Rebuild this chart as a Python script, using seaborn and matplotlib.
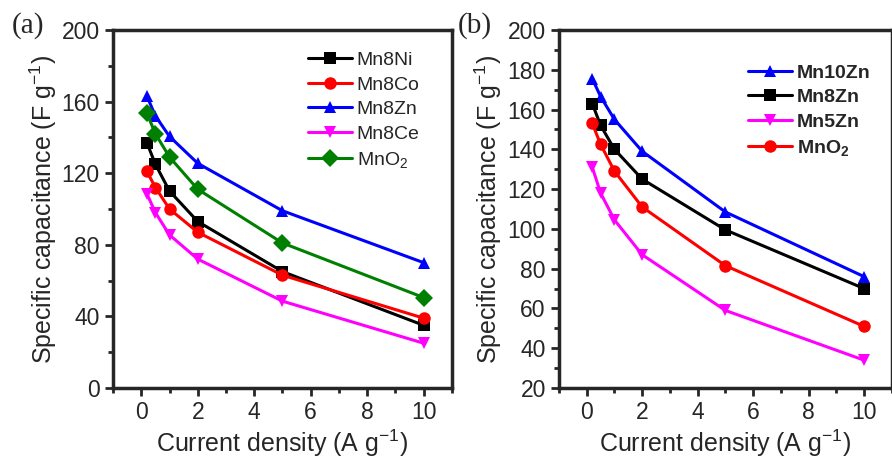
import pandas as pd
import matplotlib
matplotlib.use("Agg")
import matplotlib.pyplot as plt
from matplotlib.ticker import MultipleLocator
import seaborn as sns

# current densities (A/g)
current = [0.2, 0.5, 1, 2, 5, 10]

# panel (a)
mn8ni = [137, 125, 110, 93, 65, 35]
mn8co = [121, 112, 100, 87, 63, 39]
mn8zn = [163, 152, 140.5, 125.5, 99, 70]
mn8ce = [108.5, 98, 85.5, 72, 48.5, 25]
mno2_a = [153.5, 142, 129, 111, 81, 50.5]

# panel (b)
mn10zn = [175.5, 166.5, 155, 139, 108.5, 76]
mn8zn_b = [163, 152, 140, 125, 99.5, 70]
mn5zn = [131, 118, 104.5, 87, 59, 34]
mno2_b = [153, 142.5, 129, 111, 81.5, 51]

sns.set_style("ticks")
plt.rcParams["font.family"] = ["Liberation Sans", "DejaVu Sans"]
plt.rcParams["mathtext.fontset"] = "custom"
plt.rcParams["mathtext.rm"] = "Liberation Sans"
plt.rcParams["mathtext.bf"] = "Liberation Sans:bold"
plt.rcParams["mathtext.it"] = "Liberation Sans:italic"

def long_df(series):
    rows = []
    for name, vals in series.items():
        for x, y in zip(current, vals):
            rows.append({"x": x, "y": y, "sample": name})
    return pd.DataFrame(rows)

fig = plt.figure(figsize=(8.92, 4.59), dpi=100)
ax_a = fig.add_axes([0.1267, 0.1547, 0.380, 0.780])
ax_b = fig.add_axes([0.6267, 0.1547, 0.373, 0.780])

# ---- panel (a)
series_a = {"Mn8Ni": mn8ni, "Mn8Co": mn8co, "Mn8Zn": mn8zn,
            "Mn8Ce": mn8ce, "MnO$_2$": mno2_a}
pal_a = {"Mn8Ni": "black", "Mn8Co": "red", "Mn8Zn": "blue",
         "Mn8Ce": "magenta", "MnO$_2$": "green"}
mk_a = {"Mn8Ni": "s", "Mn8Co": "o", "Mn8Zn": "^",
        "Mn8Ce": "v", "MnO$_2$": "D"}
sns.lineplot(data=long_df(series_a), x="x", y="y", hue="sample", style="sample",
             palette=pal_a, markers=mk_a, dashes=False, linewidth=2.2,
             markersize=9, markeredgewidth=0, ax=ax_a)
ax_a.set_ylim(0, 200)
ax_a.yaxis.set_major_locator(MultipleLocator(40))
ax_a.yaxis.set_minor_locator(MultipleLocator(20))

# ---- panel (b)
series_b = {"Mn10Zn": mn10zn, "Mn8Zn": mn8zn_b, "Mn5Zn": mn5zn,
            r"MnO$_\mathbf{2}$": mno2_b}
pal_b = {"Mn10Zn": "blue", "Mn8Zn": "black", "Mn5Zn": "magenta",
         r"MnO$_\mathbf{2}$": "red"}
mk_b = {"Mn10Zn": "^", "Mn8Zn": "s", "Mn5Zn": "v",
        r"MnO$_\mathbf{2}$": "o"}
sns.lineplot(data=long_df(series_b), x="x", y="y", hue="sample", style="sample",
             palette=pal_b, markers=mk_b, dashes=False, linewidth=2.2,
             markersize=9, markeredgewidth=0, ax=ax_b)
ax_b.set_ylim(20, 200)
ax_b.yaxis.set_major_locator(MultipleLocator(20))
ax_b.yaxis.set_minor_locator(MultipleLocator(10))

for ax, lx in [(ax_a, -0.158), (ax_b, -0.165)]:
    ax.set_xlim(-1, 11)
    ax.xaxis.set_major_locator(MultipleLocator(2))
    ax.xaxis.set_minor_locator(MultipleLocator(1))
    ax.tick_params(which="major", direction="out", length=6, width=2,
                   labelsize=16.5, top=False, right=False)
    ax.tick_params(which="minor", direction="out", length=3.5, width=2,
                   top=False, right=False)
    for sp in ax.spines.values():
        sp.set_visible(True)
        sp.set_linewidth(2.5)
    ax.set_xlabel("Current density (A g$^{-1}$)", fontsize=18)
    ax.set_ylabel("Specific capacitance (F g$^{-1}$)", fontsize=18)
    ax.yaxis.set_label_coords(lx, 0.5)
    ax.xaxis.set_label_coords(0.5, -0.112)

ax_a.legend(frameon=False, loc="upper left", bbox_to_anchor=(0.575, 0.94),
            fontsize=14, handlelength=2.25, labelspacing=0.36,
            handletextpad=0.25, borderpad=0, borderaxespad=0)
ax_b.legend(frameon=False, loc="upper left", bbox_to_anchor=(0.568, 0.905),
            prop={"weight": "bold", "size": 14}, handlelength=2.25,
            labelspacing=0.36, handletextpad=0.25, borderpad=0,
            borderaxespad=0)

fig.text(0.013, 0.928, "(a)", fontsize=21, family="Liberation Serif")
fig.text(0.513, 0.928, "(b)", fontsize=21, family="Liberation Serif")

fig.savefig("out.png", dpi=100)
